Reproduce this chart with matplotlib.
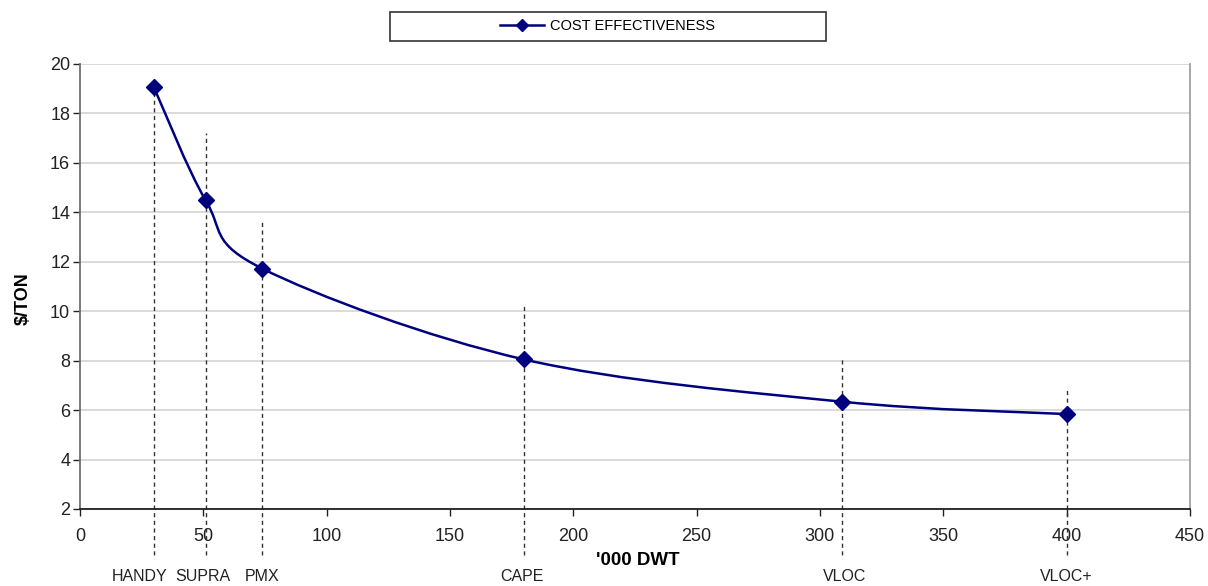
import matplotlib.pyplot as plt
import matplotlib.patches as mpatches
from matplotlib.path import Path
from matplotlib.lines import Line2D
import numpy as np

plt.rcParams['font.family'] = ['Liberation Sans', 'DejaVu Sans']

# 数据
classes = ['HANDY', 'SUPRA', 'PMX', 'CAPE', 'VLOC', 'VLOC+']
dwt = [30, 51, 74, 180, 309, 400]
cost = [19.05, 14.48, 11.72, 8.05, 6.34, 5.84]
guide_top = [19.0, 17.2, 13.75, 10.35, 8.05, 6.85]
label_x = [24, 50, 74, 179, 310, 400]

navy = '#00007f'

fig = plt.figure(figsize=(12.08, 5.86), dpi=100)
ax = fig.add_axes([0.0662, 0.1314, 0.9188, 0.7594])

ax.set_xlim(0, 450)
ax.set_ylim(2, 20)
ax.set_xticks(np.arange(0, 451, 50))
ax.set_yticks(np.arange(2, 21, 2))
ax.grid(axis='y', color='#d4d4d4', linewidth=1.2)
ax.set_axisbelow(True)
ax.spines['top'].set_visible(False)
ax.spines['right'].set_color('#a0a0a0')
ax.spines['left'].set_color('#707070')
ax.spines['bottom'].set_color('#202020')
for s in ax.spines.values():
    s.set_linewidth(1.3)
ax.tick_params(direction='out', length=5, width=1, labelsize=13, colors='#222222')
ax.tick_params(axis='y', pad=2)
ax.tick_params(axis='x', pad=9)

# 平滑曲线 (Excel 风格 Bezier)
x = np.array(dwt, float)
y = np.array(cost, float)
pts = np.column_stack([x, y])
ext = np.vstack([pts[0], pts, pts[-1]])
verts = [tuple(pts[0])]
codes = [Path.MOVETO]
for i in range(len(pts) - 1):
    p0, p1, p2, p3 = ext[i], ext[i + 1], ext[i + 2], ext[i + 3]
    c1 = p1 + (p2 - p0) / 6
    c2 = p2 - (p3 - p1) / 6
    verts += [tuple(c1), tuple(c2), tuple(p2)]
    codes += [Path.CURVE4] * 3
ax.add_patch(mpatches.PathPatch(Path(verts, codes), facecolor='none', edgecolor=navy, lw=1.8, zorder=3))
ax.plot(dwt, cost, linestyle='none', marker='D', markersize=8.5, color=navy, zorder=4)

# 竖虚线和船型标签
for xi, top in zip(dwt, guide_top):
    ax.plot([xi, xi], [0.15, top], linestyle=(0, (3, 2.5)), color='#333333', lw=1, clip_on=False, zorder=2)
for lx, name in zip(label_x, classes):
    ax.text(lx, -0.72, name, ha='center', va='center', fontsize=11.5, color='#222222', clip_on=False)

fig.text(0.528, 0.044, "'000 DWT", ha='center', va='center', fontsize=13.5, fontweight='bold')
fig.text(0.019, 0.49, '$/TON', ha='center', va='center', rotation=90, fontsize=13, fontweight='bold')

# 图例
fig.patches.append(mpatches.Rectangle((390 / 1208, 1 - 41 / 586), 436 / 1208, 29 / 586,
                                      transform=fig.transFigure, facecolor='white',
                                      edgecolor='#333333', lw=1.2))
handle = Line2D([], [], color=navy, lw=1.8, marker='D', markersize=6.5)
fig.legend([handle], ['COST EFFECTIVENESS'], loc='center', bbox_to_anchor=(0.503, 0.956),
           frameon=False, fontsize=10.5, handlelength=3, handletextpad=0.4)

fig.savefig('out.png')
